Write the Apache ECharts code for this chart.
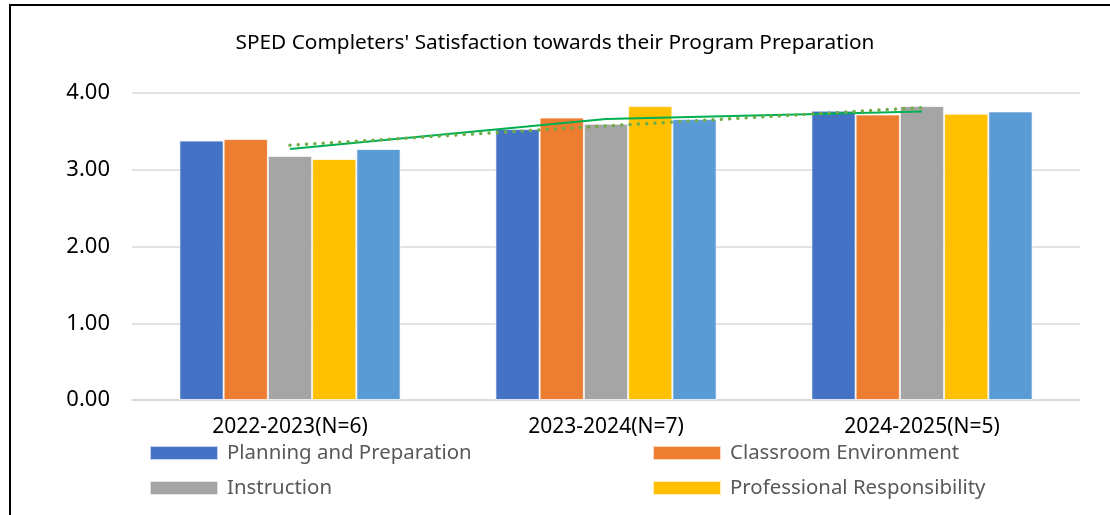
<!DOCTYPE html>
<html>
<head>
<meta charset="utf-8">
<script src="https://cdn.jsdelivr.net/npm/echarts@6/dist/echarts.min.js"></script>
<style>
  html, body { margin: 0; padding: 0; background: #fff; }
  #chart { width: 1110px; height: 515px; }
</style>
</head>
<body>
<div id="chart"></div>
<script>
// data
const years = ['2022-2023(N=6)', '2023-2024(N=7)', '2024-2025(N=5)'];
const planning = [3.38, 3.53, 3.77];
const classroom = [3.40, 3.68, 3.72];
const instruction = [3.18, 3.60, 3.83];
const professional = [3.14, 3.83, 3.73];
const overall = [3.27, 3.66, 3.76];
const average = [3.27, 3.66, 3.76];
const trend = [3.32, 3.57, 3.81];
const yTicks = [0, 1, 2, 3, 4];

const colors = ['#4472C4', '#ED7D31', '#A5A5A5', '#FFC000', '#5B9BD5'];
const FONT = '"Noto Sans", sans-serif';

const chart = echarts.init(document.getElementById('chart'));

function bar(name, data, idx) {
    return {
        name: name,
        type: 'bar',
        data: data,
        barGap: '0%',
        barCategoryGap: '30%',
        itemStyle: {
            color: colors[idx],
            borderColor: 'rgba(255,255,255,0.7)',
            borderWidth: 1
        }
    };
}

function legendItem(name, left, top) {
    return {
        left: left,
        top: top,
        padding: 0,
        orient: 'horizontal',
        icon: 'rect',
        itemWidth: 68,
        itemHeight: 14,
        data: [name],
        selectedMode: false,
        textStyle: {
            fontFamily: FONT,
            fontSize: 20.4,
            color: '#595959',
            lineHeight: 20,
            padding: [0, 0, 0, 4]
        }
    };
}

const option = {
    backgroundColor: '#fff',
    animation: false,
    title: {
        text: "SPED Completers' Satisfaction towards their Program Preparation",
        left: 'center',
        top: 28,
        textStyle: {
            fontFamily: FONT,
            fontSize: 20.8,
            fontWeight: 'normal',
            color: '#000'
        }
    },
    graphic: [{
        type: 'rect',
        shape: { x: 10, y: 5, width: 1130, height: 600 },
        style: { fill: 'none', stroke: '#000', lineWidth: 2 },
        silent: true
    }],
    legend: [
        legendItem('Planning and Preparation', 149, 443),
        legendItem('Instruction', 149, 478),
        legendItem('Classroom Environment', 652, 443),
        legendItem('Professional Responsibility', 652, 478)
    ],
    grid: { left: 132, right: 30, top: 93, bottom: 115 },
    xAxis: {
        type: 'category',
        data: years,
        axisTick: { show: false },
        axisLine: { lineStyle: { color: '#D9D9D9', width: 1.5 } },
        axisLabel: {
            fontFamily: FONT,
            fontSize: 21,
            color: '#000',
            margin: 17
        }
    },
    yAxis: {
        type: 'value',
        min: yTicks[0],
        max: yTicks[yTicks.length - 1],
        interval: 1,
        axisLine: { show: false },
        axisTick: { show: false },
        splitLine: { lineStyle: { color: '#D9D9D9', width: 1.5 } },
        axisLabel: {
            fontFamily: FONT,
            fontSize: 22,
            color: '#000',
            margin: 22,
            formatter: v => v.toFixed(2)
        }
    },
    series: [
        bar('Planning and Preparation', planning, 0),
        bar('Classroom Environment', classroom, 1),
        bar('Instruction', instruction, 2),
        bar('Professional Responsibility', professional, 3),
        bar('Overall', overall, 4),
        {
            name: 'Average',
            type: 'line',
            data: average,
            symbol: 'none',
            z: 5,
            lineStyle: { color: '#00B050', width: 2 }
        },
        {
            name: 'Linear (Average)',
            type: 'line',
            data: trend,
            symbol: 'none',
            z: 6,
            lineStyle: { color: '#70AD47', width: 3.5, type: [0.01, 8.3], cap: 'round' }
        }
    ]
};

chart.setOption(option);
</script>
</body>
</html>
